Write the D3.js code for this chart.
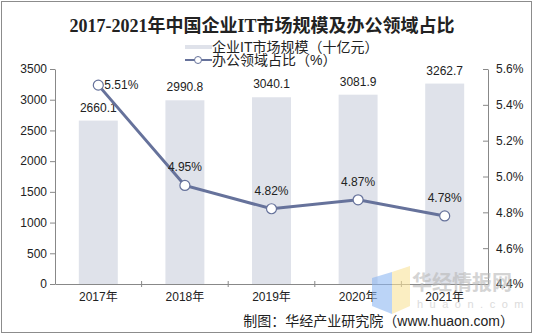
<!DOCTYPE html>
<html>
<head>
<meta charset="utf-8">
<title>2017-2021年中国企业IT市场规模及办公领域占比</title>
<style>
  body { margin: 0; background: #fff; }
  svg text { font-family: "Liberation Sans", Arial, "Noto Sans CJK SC", sans-serif; fill: #222; }
  .cjk { font-family: "Liberation Sans", "Noto Sans CJK SC", sans-serif; }
  .title { font-family: "Liberation Serif", "Noto Sans CJK SC", serif; font-weight: bold; }
</style>
</head>
<body>
<script src="https://d3js.org/d3.v7.min.js"></script>
<script>
// data
var years = ["2017年", "2018年", "2019年", "2020年", "2021年"];
var marketSize = [2660.1, 2990.8, 3040.1, 3081.9, 3262.7];
var officeShare = [5.51, 4.95, 4.82, 4.87, 4.78];
var leftTicks = [0, 500, 1000, 1500, 2000, 2500, 3000, 3500];
var rightTicks = [4.4, 4.6, 4.8, 5.0, 5.2, 5.4, 5.6];

var W = 534, H = 336;
var plot = {left: 55, right: 488, top: 69, bottom: 284};
var barColor = "#dfe2ea", lineColor = "#66729b";

var svg = d3.select("body").append("svg")
    .attr("width", W).attr("height", H);

// outer frame
svg.append("rect")
    .attr("x", 1.5).attr("y", 1.5).attr("width", 530).attr("height", 331)
    .attr("fill", "#fff").attr("stroke", "#8c8c8c");

var x = d3.scaleBand().domain(years).range([plot.left, plot.right]);
var y = d3.scaleLinear().domain([0, 3500]).range([plot.bottom, plot.top]);
var y2 = d3.scaleLinear().domain([4.4, 5.6]).range([plot.bottom, plot.top]);

// bars
svg.selectAll(".bar").data(marketSize).enter().append("rect")
    .attr("class", "bar")
    .attr("x", function(d, i) { return x(years[i]) + x.bandwidth() * 0.275; })
    .attr("width", x.bandwidth() * 0.45)
    .attr("y", function(d) { return y(d); })
    .attr("height", function(d) { return plot.bottom - y(d); })
    .attr("fill", barColor);

svg.selectAll(".barlabel").data(marketSize).enter().append("text")
    .attr("x", function(d, i) { return x(years[i]) + x.bandwidth() / 2; })
    .attr("y", function(d) { return y(d) - 9; })
    .attr("text-anchor", "middle")
    .style("font-size", "12px")
    .text(function(d) { return d.toFixed(1); });

// left axis
var gl = svg.append("g").attr("transform", "translate(" + plot.left + ",0)")
    .call(d3.axisLeft(y).tickValues(leftTicks).tickFormat(d3.format("d"))
        .tickSize(5).tickPadding(3).tickSizeOuter(0));
// right axis, ticks inward
var gr = svg.append("g").attr("transform", "translate(" + plot.right + ",0)")
    .call(d3.axisRight(y2).tickValues(rightTicks).tickSize(0).tickPadding(8).tickSizeOuter(0)
        .tickFormat(function(d) { return d.toFixed(1) + "%"; }));
gr.selectAll(".tick").append("line").attr("x1", -5).attr("x2", 0).attr("stroke", "#888");
// bottom axis
var gb = svg.append("g").attr("transform", "translate(0," + plot.bottom + ")")
    .call(d3.axisBottom(x).tickSize(0).tickPadding(8).tickSizeOuter(0));
gb.selectAll(".tick").filter(function(d, i) { return i > 0; })
    .append("line").attr("x1", -x.bandwidth() / 2).attr("x2", -x.bandwidth() / 2)
    .attr("y1", -3).attr("y2", 3).attr("stroke", "#888");

[gl, gr, gb].forEach(function(g) {
    g.select(".domain").attr("stroke", "#888");
    g.selectAll(".tick line").attr("stroke", "#888");
    g.selectAll(".tick text").style("font-size", "12px").style("fill", "#222")
        .attr("class", "cjk");
});

// line series
var line = d3.line()
    .x(function(d, i) { return x(years[i]) + x.bandwidth() / 2; })
    .y(function(d) { return y2(d); });
svg.append("path").datum(officeShare)
    .attr("d", line).attr("fill", "none")
    .attr("stroke", lineColor).attr("stroke-width", 3);
svg.selectAll(".pt").data(officeShare).enter().append("circle")
    .attr("cx", function(d, i) { return x(years[i]) + x.bandwidth() / 2; })
    .attr("cy", function(d) { return y2(d); })
    .attr("r", 5).attr("fill", "#fff").attr("stroke", lineColor).attr("stroke-width", 1.2);
svg.selectAll(".ptlabel").data(officeShare).enter().append("text")
    .attr("x", function(d, i) { return x(years[i]) + x.bandwidth() / 2 + (i === 0 ? 6 : 0); })
    .attr("y", function(d, i) { return y2(d) + (i === 0 ? 4 : -14); })
    .attr("text-anchor", function(d, i) { return i === 0 ? "start" : "middle"; })
    .style("font-size", "12px")
    .text(function(d) { return d.toFixed(2) + "%"; });

// title
svg.append("text").attr("class", "title")
    .attr("x", 262).attr("y", 32).attr("text-anchor", "middle")
    .style("font-size", "18px")
    .text("2017-2021年中国企业IT市场规模及办公领域占比");

// legend
svg.append("rect").attr("x", 185).attr("y", 45).attr("width", 27).attr("height", 4).attr("fill", barColor);
svg.append("text").attr("class", "cjk").attr("x", 212).attr("y", 52)
    .style("font-size", "14px").text("企业IT市场规模（十亿元）");
svg.append("line").attr("x1", 185).attr("x2", 212).attr("y1", 60).attr("y2", 60)
    .attr("stroke", lineColor).attr("stroke-width", 2);
svg.append("circle").attr("cx", 198).attr("cy", 60).attr("r", 3.5)
    .attr("fill", "#fff").attr("stroke", lineColor);
svg.append("text").attr("class", "cjk").attr("x", 212).attr("y", 65)
    .style("font-size", "14px").text("办公领域占比（%）");

// source
svg.append("text").attr("class", "cjk")
    .attr("x", 514).attr("y", 326).attr("text-anchor", "end")
    .style("font-size", "14px")
    .text("制图：华经产业研究院（www.huaon.com）");

// watermark sits on top, semi-transparent
var wm = svg.append("g").attr("opacity", 0.6);
wm.append("path").attr("d", "M372,278 L392,272 L392,314 L372,306 Z").attr("fill", "#8fb8f2");
wm.append("path").attr("d", "M392,272 L410,266 L410,306 L392,314 Z").attr("fill", "#fae39a");
wm.append("text").attr("x", 412).attr("y", 290).attr("class", "cjk")
    .style("font-size", "20px").style("font-weight", "bold").style("fill", "#b8b8b8")
    .text("华经情报网");
wm.append("text").attr("x", 417).attr("y", 308)
    .style("font-size", "11px").style("letter-spacing", "6.5px").style("fill", "#c4c4c4")
    .text("huaon.com");
</script>
</body>
</html>
